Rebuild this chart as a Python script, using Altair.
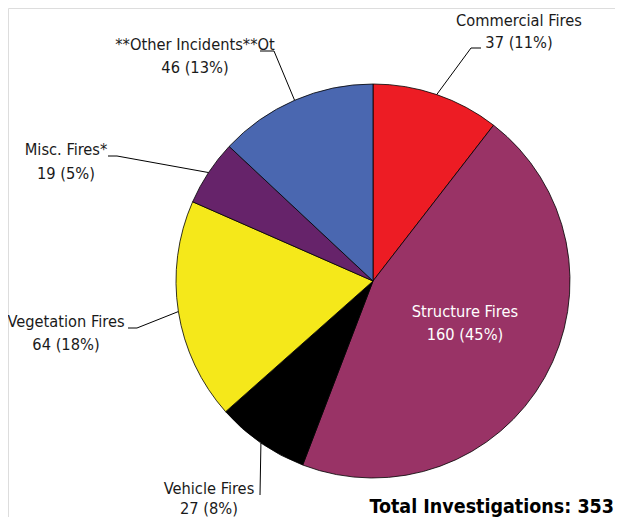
import math
import altair as alt
import pandas as pd

# ---- data ----
categories = ["Commercial Fires", "Structure Fires", "Vehicle Fires",
              "Vegetation Fires", "Misc. Fires*", "**Other Incidents**Ot"]
counts = [37, 160, 27, 64, 19, 46]
percents = [11, 45, 8, 18, 5, 13]
colors = ["#ED1C24", "#993366", "#000000", "#F5E81A", "#66236A", "#4A67B0"]
total_label = "Total Investigations: 353"

# ---- layout (page pixel coordinates) ----
M = 8
W, H = 607, 509
CX, CY, R = 373, 281, 197
FONT = "DejaVu Sans Condensed, Roboto, sans-serif"
FS = 16.3
# elbow point, end point of leader line, label centre x, baseline line1, baseline line2
layout = {
    "Commercial Fires": dict(elbow=(471, 48), end=(481, 48), tx=519, b1=26, b2=48),
    "Structure Fires": dict(elbow=None, end=None, tx=465, b1=317, b2=340),
    "Vehicle Fires": dict(elbow=(260, 495), end=(260, 495), tx=209, b1=494, b2=514),
    "Vegetation Fires": dict(elbow=(137, 328), end=(128, 328), tx=66, b1=327, b2=350),
    "Misc. Fires*": dict(elbow=(117, 156), end=(108, 156), tx=66, b1=155, b2=179),
    "**Other Incidents**Ot": dict(elbow=(274, 51), end=(260, 51), tx=195, b1=50, b2=73),
}

total = sum(counts)
pie = pd.DataFrame({"cat": categories, "count": counts, "idx": range(len(counts))})

segs, texts = [], []
cum = 0
for c, n, p in zip(categories, counts, percents):
    mid = (cum + n / 2) / total * 2 * math.pi
    cum += n
    L = layout[c]
    sx, sy = CX + R * math.sin(mid), CY - R * math.cos(mid)
    if L["elbow"] is not None:
        ex, ey = L["elbow"]
        fx, fy = L["end"]
        segs.append(dict(x=sx - M, y=sy - M, x2=ex - M, y2=ey - M))
        segs.append(dict(x=ex - M, y=ey - M, x2=fx - M, y2=fy - M))
    col = "white" if c == "Structure Fires" else "#1a1a1a"
    texts.append(dict(t=c, x=L["tx"] - M, y=L["b1"] - M, col=col))
    texts.append(dict(t=f"{n} ({p}%)", x=L["tx"] - M, y=L["b2"] - M, col=col))

segs = pd.DataFrame(segs)
texts = pd.DataFrame(texts)

xs = alt.Scale(domain=[0, W], nice=False, zero=False)
ys = alt.Scale(domain=[0, H], nice=False, zero=False, reverse=True)

arc = alt.Chart(pie).mark_arc(outerRadius=R, stroke="black", strokeWidth=0.8).encode(
    theta=alt.Theta("count:Q", stack=True),
    color=alt.Color("cat:N", scale=alt.Scale(domain=categories, range=colors), legend=None),
    order=alt.Order("idx:Q"),
    x=alt.value(CX - M),
    y=alt.value(CY - M),
)

lines = alt.Chart(segs).mark_rule(color="black", strokeWidth=1).encode(
    x=alt.X("x:Q", scale=xs, axis=None),
    y=alt.Y("y:Q", scale=ys, axis=None),
    x2="x2:Q",
    y2="y2:Q",
)

labels = alt.Chart(texts).mark_text(
    font=FONT, fontSize=FS, align="center", baseline="alphabetic"
).encode(
    x=alt.X("x:Q", scale=xs, axis=None),
    y=alt.Y("y:Q", scale=ys, axis=None),
    text="t:N",
    color=alt.Color("col:N", scale=None),
)

tot = alt.Chart(pd.DataFrame({"t": [total_label]})).mark_text(
    font=FONT, fontSize=19.5, fontWeight="bold", align="right", baseline="alphabetic", color="black"
).encode(
    x=alt.value(614 - M),
    y=alt.value(513 - M),
    text="t:N",
)

chart = alt.layer(arc, lines, labels, tot).properties(
    width=W, height=H,
    autosize=alt.AutoSizeParams(type="none"),
    padding=0,
).configure_view(stroke="transparent", strokeWidth=0).configure(background="white")

chart.save("out.html", embed_options={"renderer": "svg", "actions": False})
